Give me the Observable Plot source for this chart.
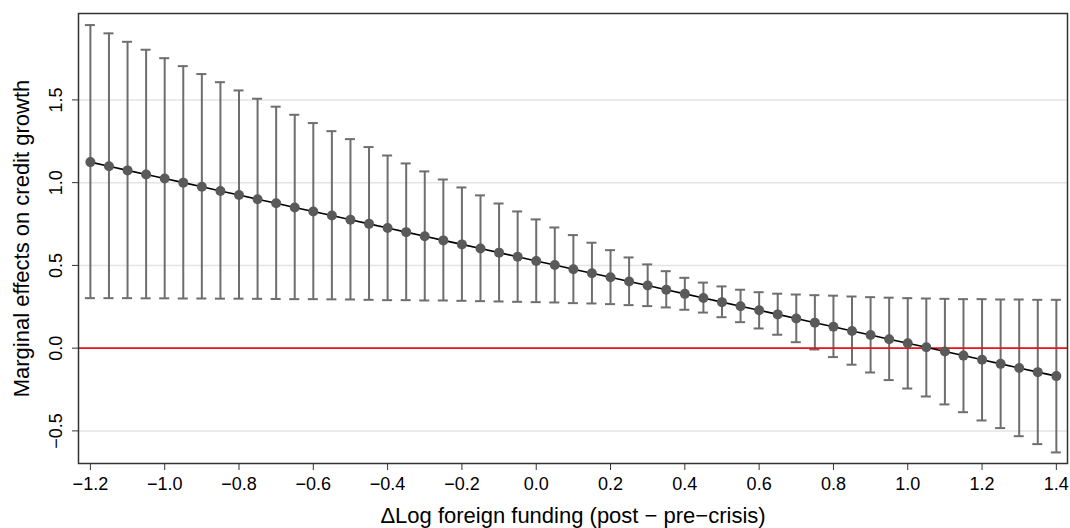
<!DOCTYPE html>
<html>
<head>
<meta charset="utf-8">
<script src="https://cdn.jsdelivr.net/npm/d3@7"></script>
<script src="https://cdn.jsdelivr.net/npm/@observablehq/plot@0.6"></script>
<style>
  html, body { margin: 0; padding: 0; background: #fff; }
  #chart { width: 1070px; height: 528px; }
</style>
</head>
<body>
<div id="chart"></div>
<script>
// x positions (Δ log foreign funding)
const xValues = [-1.2,-1.15,-1.1,-1.05,-1.0,-0.95,-0.9,-0.85,-0.8,-0.75,-0.7,-0.65,-0.6,-0.55,-0.5,-0.45,-0.4,-0.35,-0.3,-0.25,-0.2,-0.15,-0.1,-0.05,0.0,0.05,0.1,0.15,0.2,0.25,0.3,0.35,0.4,0.45,0.5,0.55,0.6,0.65,0.7,0.75,0.8,0.85,0.9,0.95,1.0,1.05,1.1,1.15,1.2,1.25,1.3,1.35,1.4];
// marginal effect estimates
const effect = [1.124,1.099,1.074,1.049,1.025,1.000,0.975,0.950,0.925,0.900,0.875,0.850,0.826,0.801,0.776,0.751,0.726,0.701,0.676,0.651,0.627,0.602,0.577,0.552,0.527,0.502,0.477,0.452,0.428,0.403,0.378,0.353,0.328,0.303,0.278,0.253,0.229,0.204,0.179,0.154,0.129,0.104,0.079,0.054,0.030,0.005,-0.020,-0.045,-0.070,-0.095,-0.120,-0.145,-0.169];
// upper confidence bound
const upper = [1.952,1.902,1.851,1.803,1.752,1.704,1.656,1.607,1.557,1.507,1.459,1.410,1.360,1.311,1.263,1.215,1.164,1.116,1.068,1.019,0.971,0.923,0.874,0.826,0.778,0.729,0.683,0.637,0.592,0.548,0.506,0.465,0.425,0.396,0.373,0.353,0.338,0.329,0.324,0.320,0.317,0.312,0.308,0.305,0.302,0.300,0.298,0.296,0.296,0.294,0.294,0.292,0.292];
// lower confidence bound
const lower = [0.302,0.302,0.302,0.301,0.301,0.300,0.300,0.299,0.299,0.298,0.297,0.296,0.296,0.295,0.294,0.292,0.290,0.290,0.288,0.288,0.286,0.284,0.282,0.280,0.278,0.276,0.272,0.270,0.266,0.260,0.254,0.246,0.232,0.215,0.187,0.157,0.119,0.081,0.036,-0.008,-0.054,-0.100,-0.147,-0.193,-0.244,-0.292,-0.340,-0.387,-0.437,-0.483,-0.532,-0.580,-0.630];
// tick labels
const xTicks = [-1.2,-1.0,-0.8,-0.6,-0.4,-0.2,0.0,0.2,0.4,0.6,0.8,1.0,1.2,1.4];
const yTicks = [-0.5,0.0,0.5,1.0,1.5];
const xLabel = "\u0394Log foreign funding (post \u2212 pre\u2212crisis)";
const yLabel = "Marginal effects on credit growth";

const data = xValues.map((x, i) => ({x, effect: effect[i], upper: upper[i], lower: lower[i]}));
const fmt = d => d.toFixed(1).replace("-", "\u2212");
const capHalf = 0.0135;

const chart = Plot.plot({
  width: 1070,
  height: 528,
  marginLeft: 78,
  marginTop: 13,
  marginRight: 3,
  marginBottom: 65,
  style: { fontFamily: "'Liberation Sans', Arial, Helvetica, sans-serif", fontSize: "18px", color: "#000", background: "#fff" },
  x: { domain: [-1.232, 1.43] },
  y: { domain: [-0.697, 2.022] },
  marks: [
    Plot.gridY(yTicks, { stroke: "#e4e4e4", strokeOpacity: 1, strokeWidth: 1.5 }),
    Plot.ruleX(data, { x: "x", y1: "lower", y2: "upper", stroke: "#6e6e6e", strokeWidth: 2 }),
    Plot.ruleY(data, { y: "upper", x1: d => d.x - capHalf, x2: d => d.x + capHalf, stroke: "#6e6e6e", strokeWidth: 2 }),
    Plot.ruleY(data, { y: "lower", x1: d => d.x - capHalf, x2: d => d.x + capHalf, stroke: "#6e6e6e", strokeWidth: 2 }),
    Plot.ruleY([0], { stroke: "#e8141b", strokeWidth: 1.6 }),
    Plot.line(data, { x: "x", y: "effect", stroke: "#000", strokeWidth: 1.6 }),
    Plot.dot(data, { x: "x", y: "effect", r: 5, fill: "#5a5a5a", stroke: "none" }),
    Plot.axisX(xTicks, { tickFormat: fmt, tickSize: 7, tickPadding: 7, stroke: "#333", label: null, fontSize: 18 }),
    Plot.axisY(yTicks, { tickFormat: fmt, tickSize: 6, tickPadding: 11, tickRotate: -90, stroke: "#333", label: null, fontSize: 18 }),
    Plot.text([xLabel], { text: d => d, frameAnchor: "bottom", lineAnchor: "middle", textAnchor: "middle", dy: 52, fontSize: 22, fill: "#000" }),
    Plot.text([yLabel], { text: d => d, frameAnchor: "left", rotate: -90, textAnchor: "middle", lineAnchor: "middle", dx: -57, fontSize: 22, fill: "#000" }),
    Plot.frame({ stroke: "#333", strokeWidth: 1.5 })
  ]
});
document.getElementById("chart").appendChild(chart);
</script>
</body>
</html>
